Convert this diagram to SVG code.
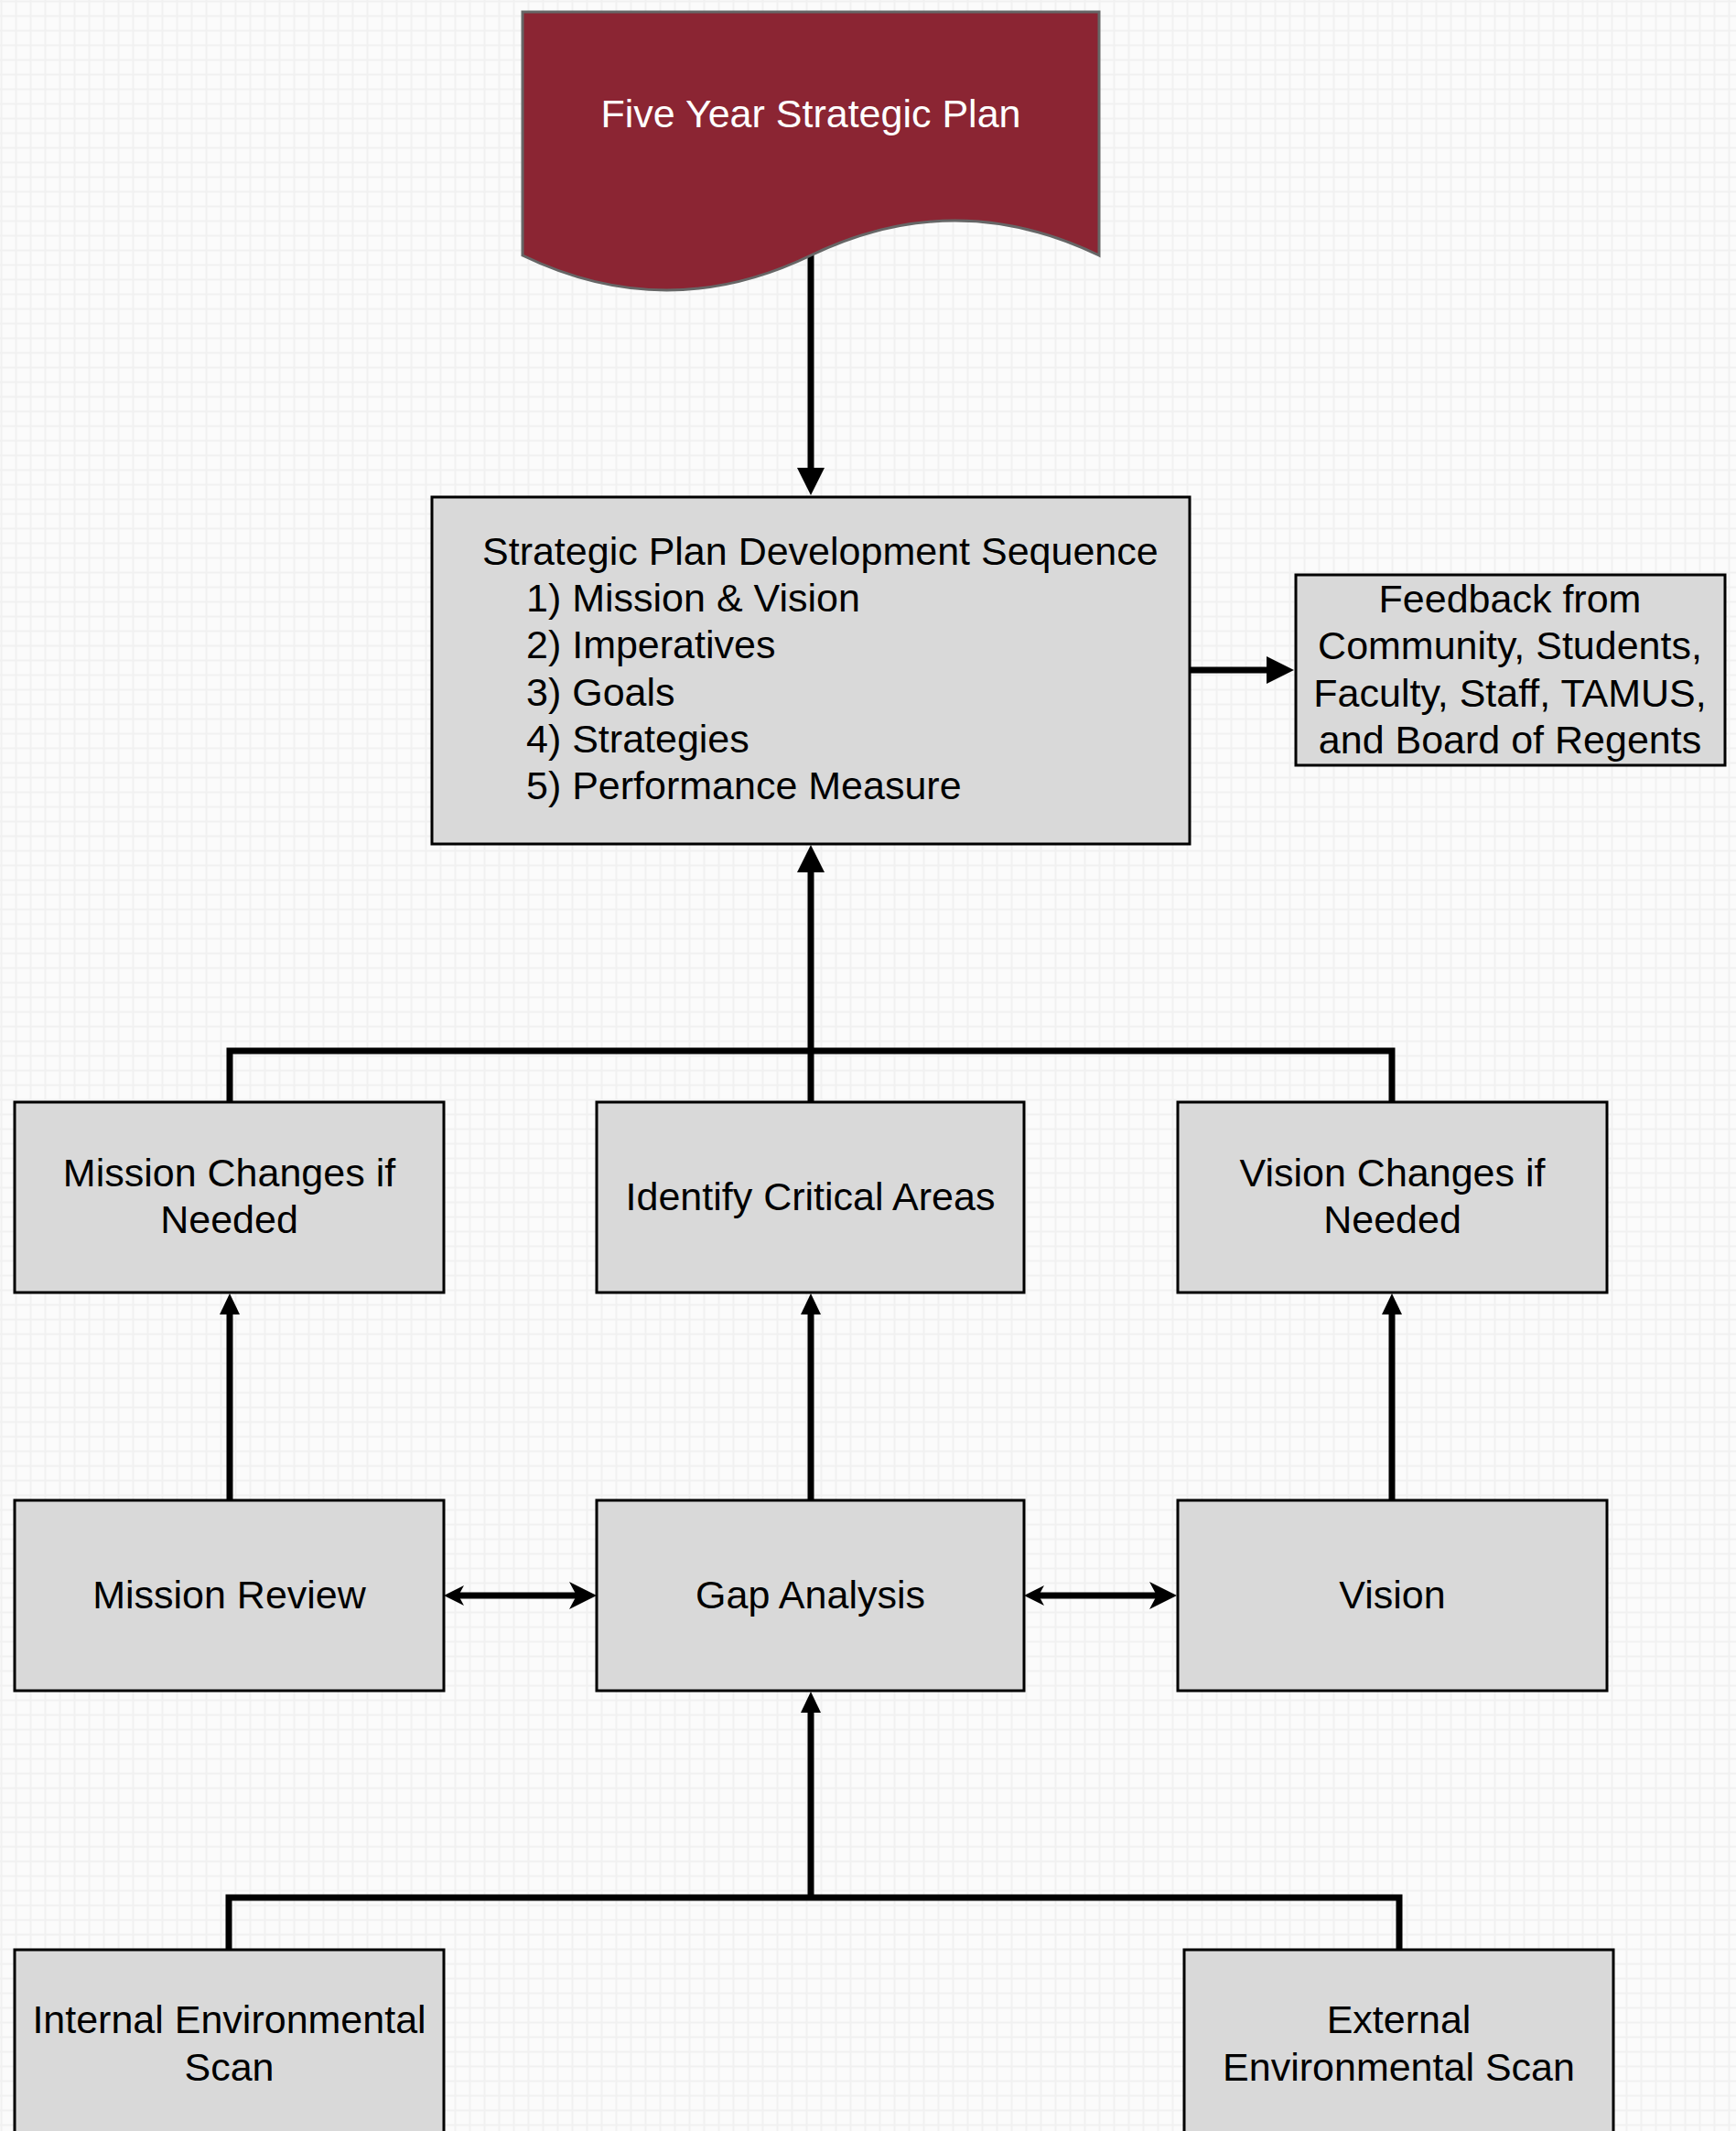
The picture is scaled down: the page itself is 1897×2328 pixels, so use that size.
<svg xmlns="http://www.w3.org/2000/svg" width="1897" height="2328" viewBox="0 0 1897 2328">
<style>
.box{fill:#d9d9d9;stroke:#000;stroke-width:3}
.t{font-family:"Liberation Sans",Arial,sans-serif;font-size:43px;fill:#000}
.c{text-anchor:middle}
.w{fill:#fff}
.con{fill:none;stroke:#000;stroke-width:7}
</style>
<defs>
<pattern id="grid" x="0" y="0" width="16" height="16" patternUnits="userSpaceOnUse">
<rect width="16" height="16" fill="#fbfbfb"/>
<rect x="0.5" y="0" width="2" height="16" fill="#f1f1f1"/>
<rect x="0" y="0.5" width="16" height="2" fill="#f1f1f1"/>
</pattern>
<marker id="aL" markerUnits="userSpaceOnUse" markerWidth="30" markerHeight="30" refX="1" refY="15" orient="auto"><path d="M0,0 L30,15 L0,30 Z" fill="#000"/></marker>
<marker id="aS" markerUnits="userSpaceOnUse" markerWidth="23" markerHeight="22" refX="1" refY="11" orient="auto"><path d="M0,0 L23,11 L0,22 Z" fill="#000"/></marker>
<marker id="bS" markerUnits="userSpaceOnUse" markerWidth="22" markerHeight="22" refX="6" refY="11" orient="auto-start-reverse"><path d="M0,0 L22,11 L0,22 L6,11 Z" fill="#000"/></marker>
<marker id="bL" markerUnits="userSpaceOnUse" markerWidth="30" markerHeight="30" refX="8" refY="15" orient="auto"><path d="M0,0 L30,15 L0,30 L8,15 Z" fill="#000"/></marker>
</defs>
<rect width="1897" height="2328" fill="url(#grid)"/>

<g id="connectors">
<path class="con" d="M886,279 V512" marker-end="url(#aL)"/>
<path class="con" d="M1300,732 H1385" marker-end="url(#aL)"/>
<path class="con" d="M886,1204 V952" marker-end="url(#aL)"/>
<path class="con" d="M251,1204 V1148 H1521 V1204"/>
<path class="con" d="M251,1638 V1435" marker-end="url(#aS)"/>
<path class="con" d="M886,1638 V1435" marker-end="url(#aS)"/>
<path class="con" d="M1521,1638 V1435" marker-end="url(#aS)"/>
<path class="con" d="M501,1743 H630" marker-start="url(#bS)" marker-end="url(#bL)"/>
<path class="con" d="M1135,1743 H1264" marker-start="url(#bS)" marker-end="url(#bL)"/>
<path class="con" d="M886,2073 V1870" marker-end="url(#aS)"/>
<path class="con" d="M250,2130 V2073 H1529 V2130"/>
</g>

<g id="plan">
<path d="M571,13 H1201 V279 Q1043.5,203 886,279 Q728.5,355 571,279 Z" fill="#8b2533" stroke="#666" stroke-width="3"/>
<text class="t c w" x="886" y="139">Five Year Strategic Plan</text>
</g>

<g id="sequence">
<rect class="box" x="472" y="543" width="828" height="379"/>
<text class="t" x="527" y="617">Strategic Plan Development Sequence</text>
<text class="t" x="575" y="668">1) Mission &amp; Vision</text>
<text class="t" x="575" y="719">2) Imperatives</text>
<text class="t" x="575" y="771">3) Goals</text>
<text class="t" x="575" y="822">4) Strategies</text>
<text class="t" x="575" y="873">5) Performance Measure</text>
</g>

<g id="feedback">
<rect class="box" x="1416" y="628" width="469" height="208"/>
<text class="t c" x="1650" y="669">Feedback from</text>
<text class="t c" x="1650" y="720">Community, Students,</text>
<text class="t c" x="1650" y="772">Faculty, Staff, TAMUS,</text>
<text class="t c" x="1650" y="823">and Board of Regents</text>
</g>

<g id="mission-changes">
<rect class="box" x="16" y="1204" width="469" height="208"/>
<text class="t c" x="250.5" y="1296">Mission Changes if</text>
<text class="t c" x="250.5" y="1347">Needed</text>
</g>

<g id="critical-areas">
<rect class="box" x="652" y="1204" width="467" height="208"/>
<text class="t c" x="885.5" y="1322">Identify Critical Areas</text>
</g>

<g id="vision-changes">
<rect class="box" x="1287" y="1204" width="469" height="208"/>
<text class="t c" x="1521.5" y="1296">Vision Changes if</text>
<text class="t c" x="1521.5" y="1347">Needed</text>
</g>

<g id="mission-review">
<rect class="box" x="16" y="1639" width="469" height="208"/>
<text class="t c" x="250.5" y="1757">Mission Review</text>
</g>

<g id="gap-analysis">
<rect class="box" x="652" y="1639" width="467" height="208"/>
<text class="t c" x="885.5" y="1757">Gap Analysis</text>
</g>

<g id="vision">
<rect class="box" x="1287" y="1639" width="469" height="208"/>
<text class="t c" x="1521.5" y="1757">Vision</text>
</g>

<g id="internal-scan">
<rect class="box" x="16" y="2130" width="469" height="260"/>
<text class="t c" x="250.5" y="2221">Internal Environmental</text>
<text class="t c" x="250.5" y="2273">Scan</text>
</g>

<g id="external-scan">
<rect class="box" x="1294" y="2130" width="469" height="260"/>
<text class="t c" x="1528.5" y="2221">External</text>
<text class="t c" x="1528.5" y="2273">Environmental Scan</text>
</g>
</svg>
